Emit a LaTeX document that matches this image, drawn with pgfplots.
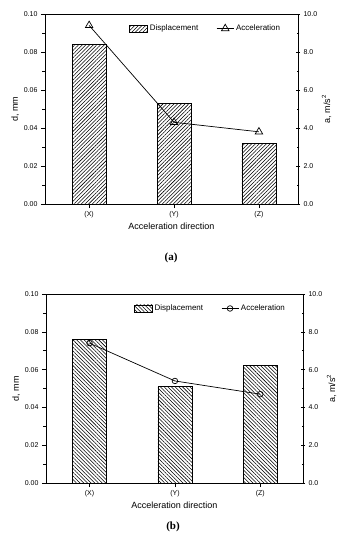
\documentclass[border=0pt]{standalone}
\usepackage{pgfplots}
\pgfplotsset{compat=1.18}
\usepackage{fontspec}
\setmainfont{Liberation Sans}
\newfontfamily\capfont{Liberation Serif}
\usetikzlibrary{patterns.meta}

\tikzset{
  hatchA/.style={pattern={Lines[angle=45, distance=2.6pt, line width=0.55pt]}},
  hatchB/.style={pattern={Lines[angle=-45, distance=2.6pt, line width=0.55pt]}},
}

\pgfplotsset{
  common/.style={
    scale only axis,
    xtick={0,1,2}, xticklabels={(X),(Y),(Z)},
    tick label style={font=\fontsize{7}{8}\selectfont},
    label style={font=\fontsize{9}{10}\selectfont},
    /pgf/number format/assume math mode=true,
    axis line style={line width=0.8pt},
    major tick length=4pt, minor tick length=2.5pt,
    every tick/.style={black, line width=0.6pt},
    ymin=0,
  },
  leftax/.style={common,
    ymax=0.1, ytick={0,0.02,0.04,0.06,0.08,0.1}, minor y tick num=1,
    yticklabel style={/pgf/number format/.cd, fixed, fixed zerofill, precision=2},
    xtick pos=bottom, ytick pos=left, tick align=outside,
    xlabel={Acceleration direction}, ylabel={d, mm},
    xlabel style={yshift=2pt},
    ylabel style={yshift=-2pt},
  },
  rightax/.style={common,
    ymax=10, ytick={0,2,4,6,8,10}, minor y tick num=1,
    yticklabel style={/pgf/number format/.cd, fixed, fixed zerofill, precision=1},
    axis y line*=right, axis x line=none, tick align=center,
    ylabel={a, m/s\textsuperscript{2}},
    ylabel style={yshift=2pt},
    legend style={draw=none, fill=none, at={(0.95,0.965)}, anchor=north east,
      font=\fontsize{8}{9}\selectfont, legend columns=2,
      /tikz/every even column/.append style={column sep=16pt}},
  },
}

\begin{document}
\begin{tikzpicture}
\path (0,0) rectangle (341pt,-550pt);

% ---------------- Panel (a)
\begin{axis}[leftax, at={(45pt,-14pt)}, anchor=north west,
  width=253pt, height=190pt, xmin=-0.52, xmax=2.46]
\addplot[ybar, bar width=34pt, draw=black, line width=0.7pt, hatchA]
  coordinates {(0,0.084) (1,0.053) (2,0.032)};
\end{axis}
\begin{axis}[rightax, at={(45pt,-14pt)}, anchor=north west,
  width=253pt, height=190pt, xmin=-0.52, xmax=2.46]
\addlegendimage{legend image code/.code={\draw[black, line width=0.6pt, hatchA] (0pt,-3.5pt) rectangle (18pt,3.5pt);}}
\addlegendentry{Displacement}
\addplot[black, line width=0.7pt, mark=triangle, mark size=4.3pt, mark options={fill=white}]
  coordinates {(0,9.4) (1,4.3) (2,3.8)};
\addlegendentry{Acceleration}
\end{axis}
\node[font=\capfont\bfseries\fontsize{11}{12}\selectfont] at (171pt,-258pt) {(a)};

% ---------------- Panel (b)
\begin{axis}[leftax, at={(46pt,-294pt)}, anchor=north west,
  width=257pt, height=189pt, xmin=-0.51, xmax=2.5]
\addplot[ybar, bar width=34pt, draw=black, line width=0.7pt, hatchB]
  coordinates {(0,0.076) (1,0.051) (2,0.062)};
\end{axis}
\begin{axis}[rightax, at={(46pt,-294pt)}, anchor=north west,
  width=257pt, height=189pt, xmin=-0.51, xmax=2.5]
\addlegendimage{legend image code/.code={\draw[black, line width=0.6pt, hatchB] (0pt,-3.5pt) rectangle (18pt,3.5pt);}}
\addlegendentry{Displacement}
\addplot[black, line width=0.7pt, mark=o, mark size=2.8pt, mark options={fill=white}]
  coordinates {(0,7.4) (1,5.4) (2,4.7)};
\addlegendentry{Acceleration}
\end{axis}
\node[font=\capfont\bfseries\fontsize{11}{12}\selectfont] at (173pt,-527pt) {(b)};
\end{tikzpicture}
\end{document}
